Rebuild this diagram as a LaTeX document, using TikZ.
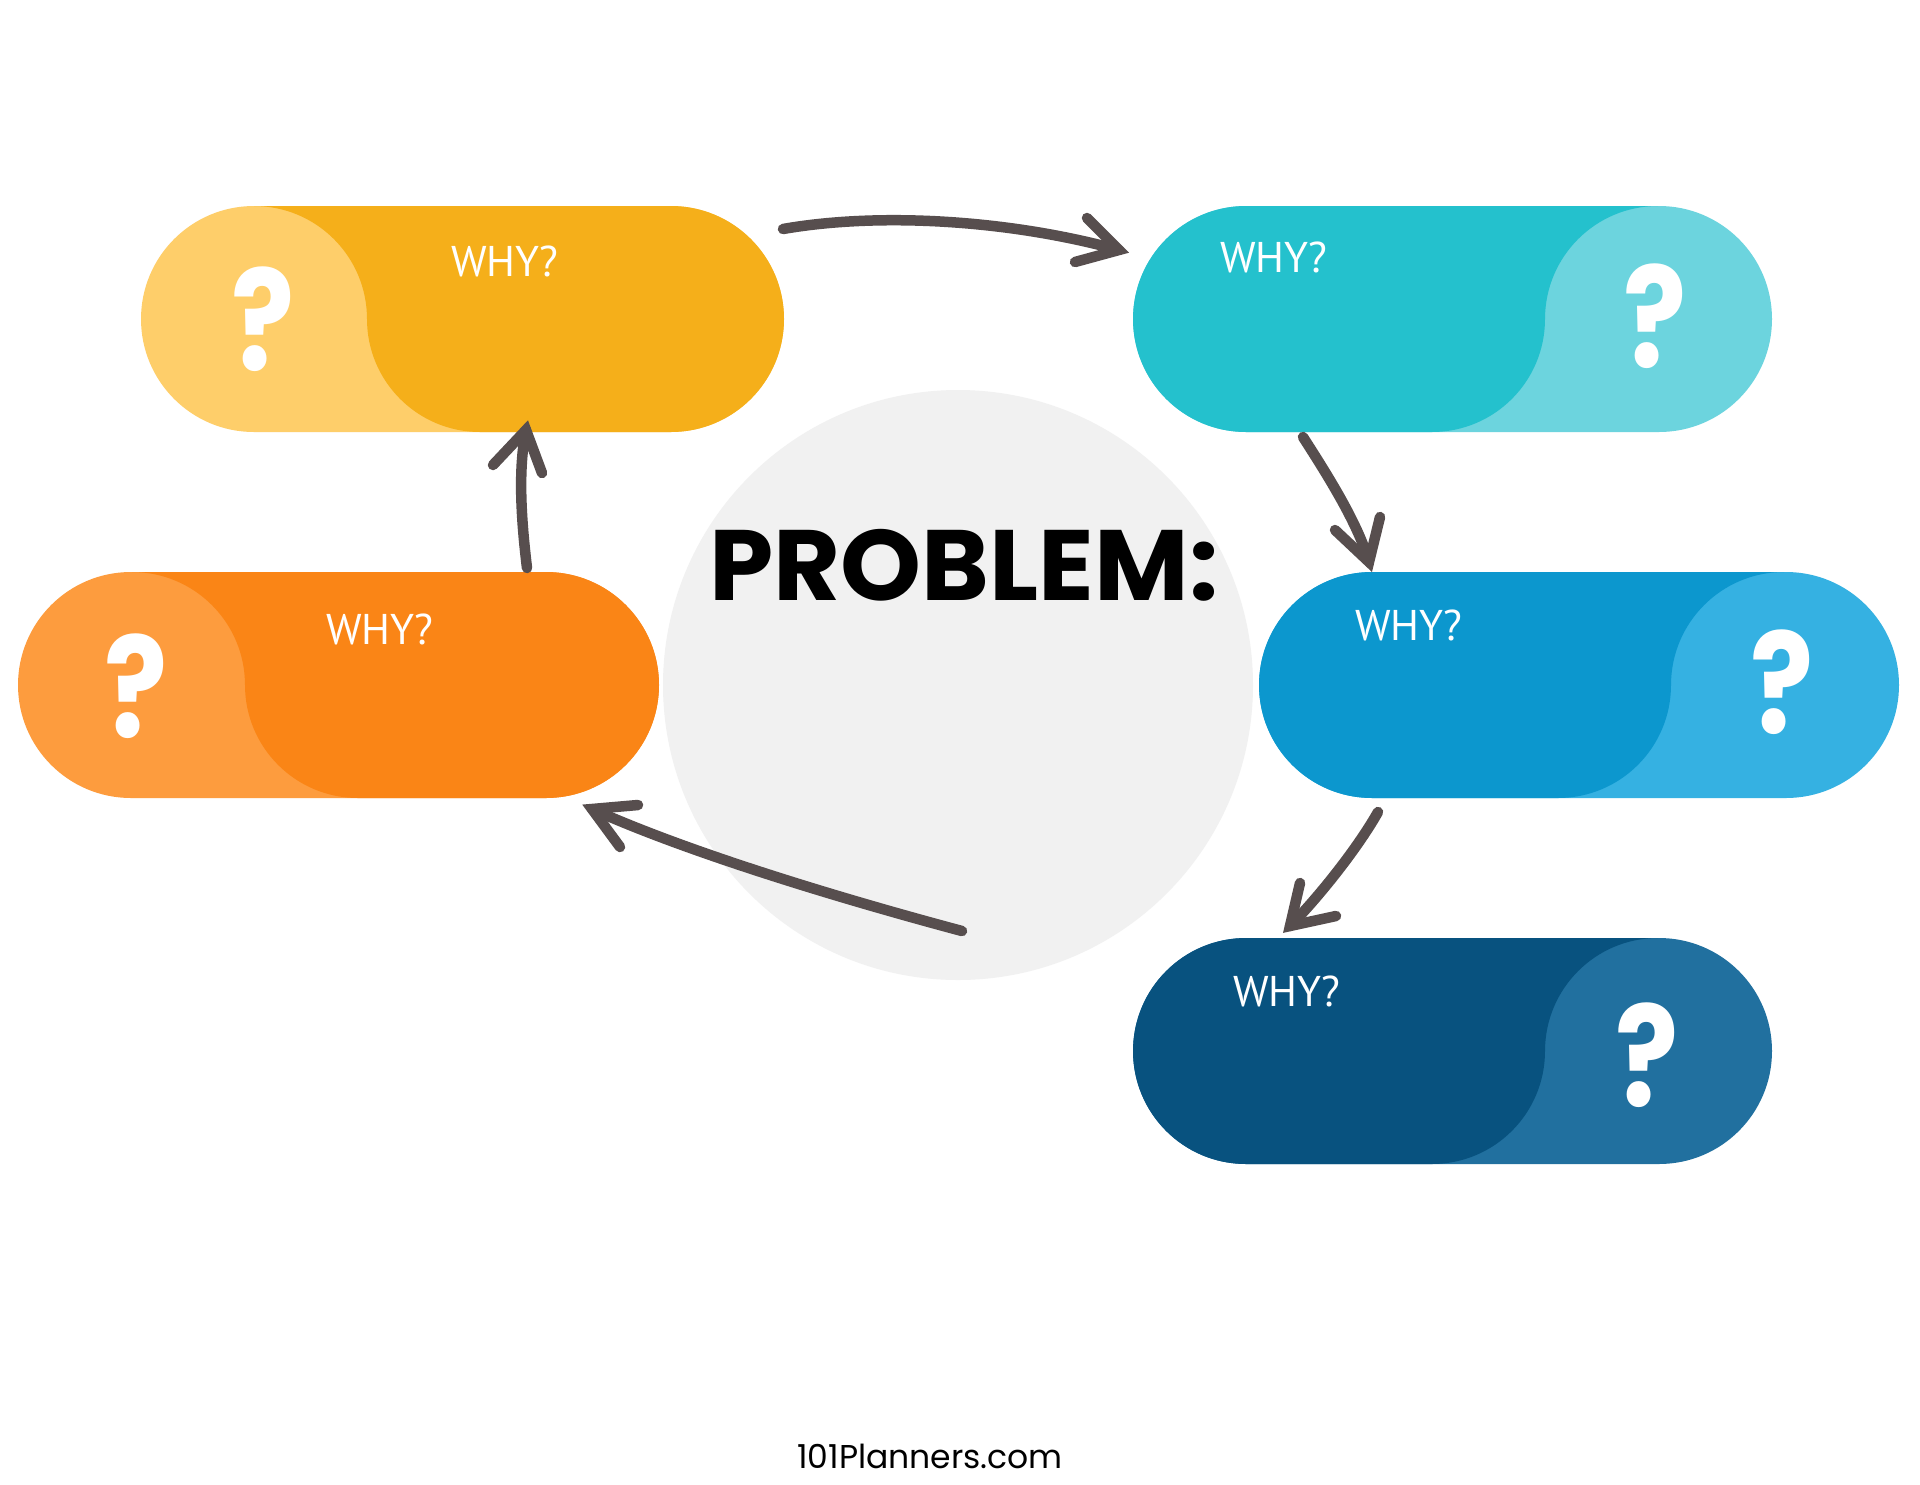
\documentclass[tikz,border=0pt]{standalone}
\usepackage{fontspec}
\setmainfont{PT Sans}
\newfontfamily\popfont{Poppins}
\definecolor{ylight}{HTML}{FECE6A}
\definecolor{ydark}{HTML}{F5AF1A}
\definecolor{tlight}{HTML}{6CD4DE}
\definecolor{tdark}{HTML}{24C1CD}
\definecolor{olight}{HTML}{FD9C3E}
\definecolor{odark}{HTML}{FA8516}
\definecolor{blight}{HTML}{35B1E2}
\definecolor{bdark}{HTML}{0C97CE}
\definecolor{nlight}{HTML}{21709F}
\definecolor{ndark}{HTML}{08527F}
\definecolor{circ}{HTML}{F1F1F1}
\definecolor{arrowc}{HTML}{574E4E}
\newcommand{\qmark}{\scalebox{0.84}[1]{?}}
\tikzset{
  why/.style={text=white, inner sep=0pt, anchor=base, font=\fontsize{43}{50}\selectfont},
  qm/.style={text=white, inner sep=0pt, anchor=base, font=\popfont\bfseries\fontsize{140}{160}\selectfont},
  arrowline/.style={draw=arrowc, line width=10.5pt, line cap=round},
  headline/.style={draw=arrowc, line width=10.5pt, line cap=round, line join=miter, miter limit=10},
  pill/.style={rounded corners=113pt}
}
\begin{document}
\begin{tikzpicture}[x=1pt,y=1pt]
\useasboundingbox (0,0) rectangle (1920,-1484);
\fill[white] (0,0) rectangle (1920,-1484);

% central circle
\fill[circ] (958,-685) circle[radius=295];
\node[font=\popfont\bfseries\fontsize{100}{120}\selectfont, anchor=base, inner sep=0pt] (prob) at (964,-600) {\scalebox{1.03}[1]{PROBLEM:}};

% yellow pill
\fill[ylight, pill] (141,-206) rectangle (784,-432);
\fill[ydark] (254,-206) -- (671,-206) arc[start angle=90, end angle=-90, radius=113] -- (480,-432) arc[start angle=270, end angle=180, radius=113] arc[start angle=0, end angle=90, radius=113] -- cycle;
\node[why] (w1) at (505,-276) {WHY?};
\node[qm] (q1) at (263,-370) {\qmark};

% teal pill
\fill[tlight, pill] (1133,-206) rectangle (1772,-432);
\fill[tdark] (1658,-206) arc[start angle=90, end angle=180, radius=113] arc[start angle=0, end angle=-90, radius=113] -- (1246,-432) arc[start angle=270, end angle=90, radius=113] -- cycle;
\node[why] (w2) at (1274,-272) {WHY?};
\node[qm] (q2) at (1655,-367) {\qmark};

% orange pill
\fill[olight, pill] (18,-572) rectangle (659,-798);
\fill[odark] (132,-572) -- (546,-572) arc[start angle=90, end angle=-90, radius=113] -- (358,-798) arc[start angle=270, end angle=180, radius=113] arc[start angle=0, end angle=90, radius=113] -- cycle;
\node[why] (w3) at (380,-644) {WHY?};
\node[qm] (q3) at (136,-737) {\qmark};

% blue pill
\fill[blight, pill] (1259,-572) rectangle (1899,-798);
\fill[bdark] (1784,-572) arc[start angle=90, end angle=180, radius=113] arc[start angle=0, end angle=-90, radius=113] -- (1372,-798) arc[start angle=270, end angle=90, radius=113] -- cycle;
\node[why] (w4) at (1409,-640) {WHY?};
\node[qm] (q4) at (1782,-733) {\qmark};

% dark blue pill
\fill[nlight, pill] (1133,-938) rectangle (1772,-1164);
\fill[ndark] (1658,-938) arc[start angle=90, end angle=180, radius=113] arc[start angle=0, end angle=-90, radius=113] -- (1246,-1164) arc[start angle=270, end angle=90, radius=113] -- cycle;
\node[why] (w5) at (1287,-1006) {WHY?};
\node[qm] (q5) at (1647,-1106) {\qmark};

% footer
\node[font=\popfont\fontsize{33}{40}\selectfont, anchor=base, inner sep=0pt] (foot) at (930,-1468) {101Planners.com};

% arrow coordinates
\coordinate (a1s) at (783,-229);
\coordinate (a1t) at (1119,-250);
\coordinate (a1b) at (1087,-218);
\coordinate (a1c) at (1075,-262);

\coordinate (a2s) at (1303,-437);
\coordinate (a2t) at (1369,-562);
\coordinate (a2b) at (1335,-530);
\coordinate (a2c) at (1380,-517);

\coordinate (a3s) at (1378,-812);
\coordinate (a3t) at (1290,-926);
\coordinate (a3b) at (1300,-883);
\coordinate (a3c) at (1336,-916);

\coordinate (a4s) at (962,-931);
\coordinate (a4t) at (592,-809);
\coordinate (a4b) at (638,-805);
\coordinate (a4c) at (620,-847);

\coordinate (a5s) at (527,-568);
\coordinate (a5t) at (526,-430);
\coordinate (a5b) at (493,-465);
\coordinate (a5c) at (542,-473);

% arrows
\draw[arrowline] (a1s) .. controls (880,-212) and (1010,-220) .. (a1t);
\draw[headline] (a1b) -- (a1t) -- (a1c);

\draw[arrowline] (a2s) .. controls (1330,-479) and (1358,-524) .. (a2t);
\draw[headline] (a2b) -- (a2t) -- (a2c);

\draw[arrowline] (a3s) .. controls (1356,-851) and (1315,-901) .. (a3t);
\draw[headline] (a3b) -- (a3t) -- (a3c);

\draw[arrowline] (a4s) .. controls (846,-900) and (692,-854) .. (a4t);
\draw[headline] (a4b) -- (a4t) -- (a4c);

\draw[arrowline] (a5s) .. controls (521,-518) and (518,-469) .. (a5t);
\draw[headline] (a5b) -- (a5t) -- (a5c);
\end{tikzpicture}
\end{document}
